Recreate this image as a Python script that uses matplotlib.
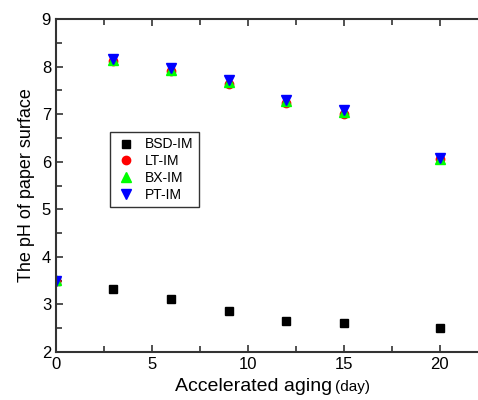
import matplotlib
matplotlib.use("Agg")
import matplotlib.pyplot as plt
from matplotlib.ticker import MultipleLocator

plt.rcParams['font.family'] = ['Liberation Sans', 'DejaVu Sans']

days = [0, 3, 6, 9, 12, 15, 20]
bsd_im = [3.50, 3.32, 3.11, 2.87, 2.65, 2.60, 2.51]
lt_im = [3.50, 8.12, 7.90, 7.64, 7.24, 7.01, 6.05]
bx_im = [3.52, 8.14, 7.93, 7.67, 7.27, 7.05, 6.06]
pt_im = [3.50, 8.16, 7.97, 7.71, 7.30, 7.09, 6.07]

fig = plt.figure(figsize=(4.78, 4.0), dpi=100)
ax = fig.add_axes([0.117, 0.12, 0.883, 0.8325])

ax.plot(days, bsd_im, 's', color='black', ms=6, label='BSD-IM')
ax.plot(days, lt_im, 'o', color='red', ms=6, label='LT-IM')
ax.plot(days, bx_im, '^', color='#00ff00', ms=6.5, label='BX-IM')
ax.plot(days, pt_im, 'v', color='blue', ms=6.5, label='PT-IM')

ax.set_xlim(0, 22)
ax.set_ylim(2, 9)
ax.xaxis.set_major_locator(MultipleLocator(5))
ax.xaxis.set_minor_locator(MultipleLocator(2.5))
ax.yaxis.set_major_locator(MultipleLocator(1))
ax.yaxis.set_minor_locator(MultipleLocator(0.5))

ax.spines['right'].set_visible(False)
for s in ['left', 'bottom', 'top']:
    ax.spines[s].set_color('#333333')
    ax.spines[s].set_linewidth(1.5)

ax.tick_params(which='both', direction='in', top=True, right=False,
               labelsize=12, color='#333333', width=1.2)
ax.tick_params(which='major', length=5)
ax.tick_params(which='minor', length=4)

# x label in two parts: main text plus a smaller unit
fig.text(332 / 478, 0.022, 'Accelerated aging', fontsize=14,
         ha='right', va='baseline')
fig.text(335 / 478, 0.022, '(day)', fontsize=11, ha='left', va='baseline')
ax.set_ylabel('The pH of paper surface', fontsize=13, labelpad=5)

leg = ax.legend(loc='upper left', bbox_to_anchor=(0.128, 0.661), fontsize=10,
                frameon=True, fancybox=False, edgecolor='black',
                handletextpad=0.6, borderpad=0.4, labelspacing=0.2,
                handlelength=1.5, borderaxespad=0)
leg.get_frame().set_linewidth(1.0)

fig.savefig('out.png', dpi=100)
